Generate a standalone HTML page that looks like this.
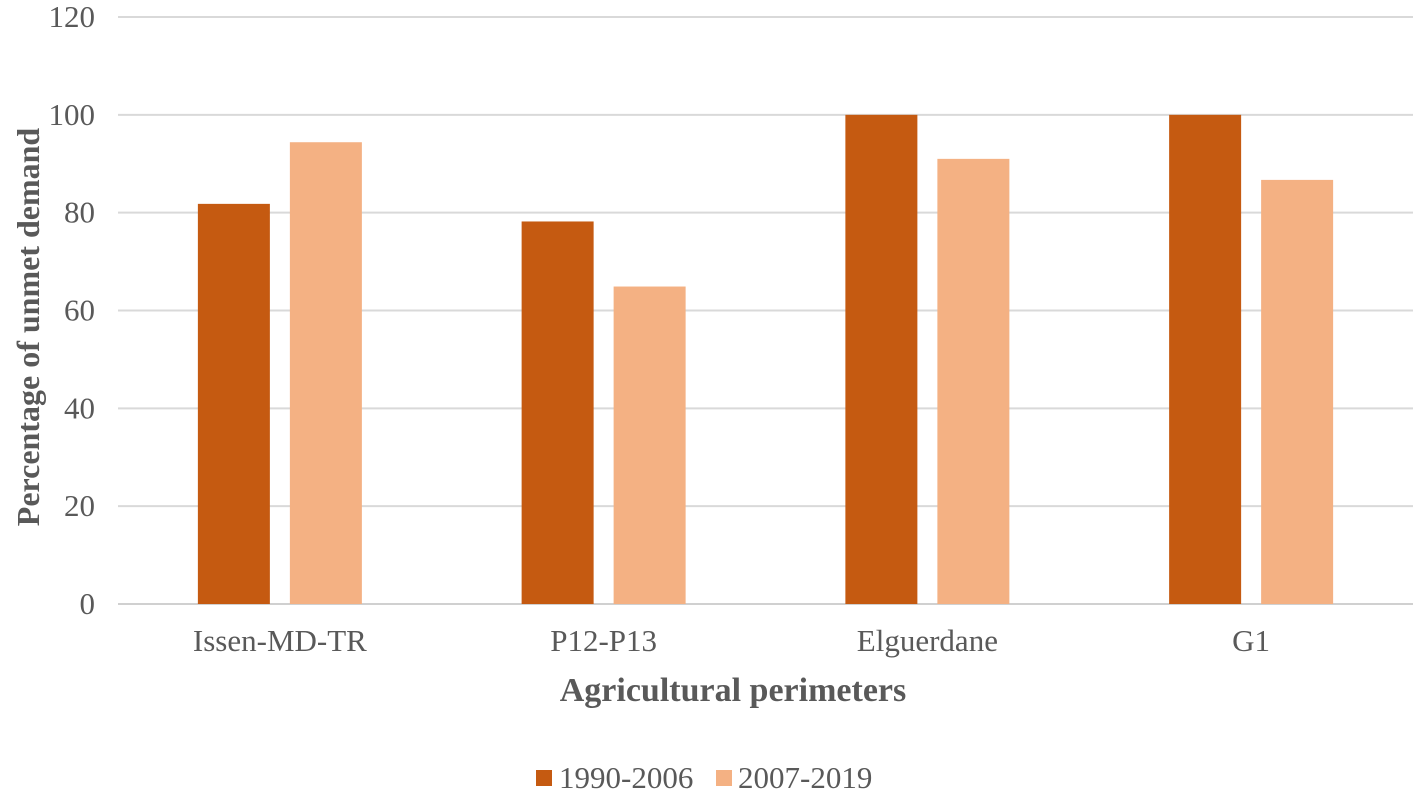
<!DOCTYPE html>
<html><head><meta charset="utf-8"><style>
html,body{margin:0;padding:0;background:#fff;}
svg{display:block;font-family:"Liberation Serif",serif;}
</style></head><body>
<svg id="chart" width="1417" height="793"></svg>
<script>
const categories=["Issen-MD-TR","P12-P13","Elguerdane","G1"];
const series1990=[81.8,78.2,100,100];
const series2007=[94.4,64.9,91,86.7];
const yTicks=[0,20,40,60,80,100,120];
const seriesNames=["1990-2006","2007-2019"];
const colors=["#C55A11","#F4B183"];
const NS="http://www.w3.org/2000/svg";
const svg=document.getElementById('chart');
const x0=118,x1=1413,yBase=604,yTop=17,yMax=120;
const y=v=>yBase-(v/yMax)*(yBase-yTop);
const bw=(x1-x0)/categories.length;
const barW=72,gap=20;
function mk(t,a,txt){const e=document.createElementNS(NS,t);for(const k in a)e.setAttribute(k,a[k]);if(txt!==undefined)e.textContent=txt;svg.appendChild(e);return e;}
yTicks.forEach(t=>{
 const l=mk('line',{x1:x0,x2:x1,y1:y(t),y2:y(t),stroke:t===0?'#d0d0d0':'#d9d9d9','stroke-width':2});
 
 
 const tx=mk('text',{x:95,y:y(t)+10,'text-anchor':'end','font-size':31,fill:'#595959'},t);
 
 
});
categories.forEach((c,i)=>{
 const cx=x0+bw*(i+0.5);
 [series1990,series2007].forEach((s,j)=>{
  const bx=j===0?cx-gap/2-barW:cx+gap/2;
  const r=mk('rect',{x:bx,y:y(s[i]),width:barW,height:yBase-y(s[i]),fill:colors[j]});
  
  
 });
 const tx=mk('text',{x:cx,y:651,'text-anchor':'middle','font-size':31,fill:'#595959'},c);
 
 
});
const xt=mk('text',{x:733,y:701,'text-anchor':'middle','font-size':34,'font-weight':'bold',fill:'#595959'},'Agricultural perimeters');


const yt=mk('text',{x:0,y:0,'text-anchor':'middle','font-size':32,'font-weight':'bold',fill:'#595959',transform:'translate(39,327) rotate(-90)'},'Percentage of unmet demand');


[[536,559],[716,738]].forEach((p,j)=>{
 const r=mk('rect',{x:p[0],y:770,width:16,height:16,fill:colors[j]});
 
 
 const t=mk('text',{x:p[1],y:788,'font-size':31,fill:'#595959'},seriesNames[j]);
 
 
});
</script>
</body></html>
